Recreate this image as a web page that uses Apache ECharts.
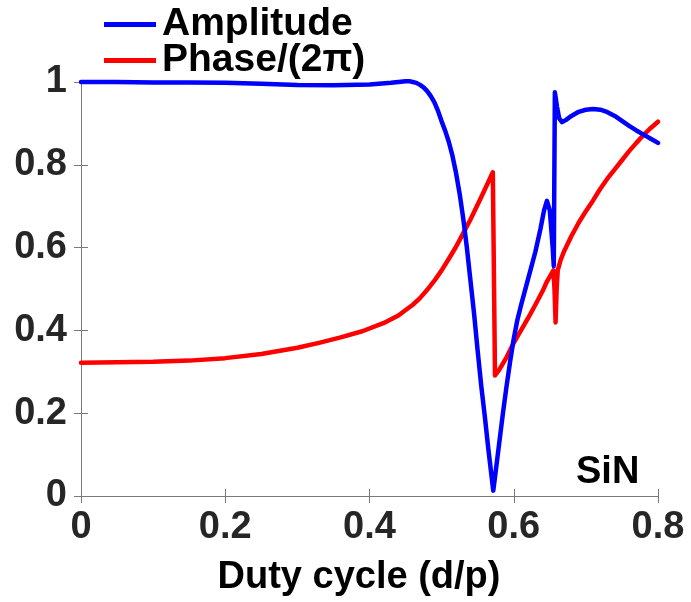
<!DOCTYPE html>
<html>
<head>
<meta charset="utf-8">
<script src="https://cdn.jsdelivr.net/npm/echarts@6/dist/echarts.min.js"></script>
<style>html,body{margin:0;padding:0;background:#fff}#c{width:691px;height:602px}</style>
</head>
<body>
<div id="c"></div>
<script>
// Amplitude (blue)
var ampX = [0, 0.05, 0.1, 0.15, 0.2, 0.25, 0.3, 0.35, 0.4, 0.43, 0.45, 0.455, 0.46, 0.465, 0.47, 0.475, 0.48, 0.485, 0.49, 0.495, 0.50, 0.505, 0.51, 0.515, 0.52, 0.525, 0.53, 0.535, 0.54, 0.545, 0.55, 0.555, 0.56, 0.565, 0.5716, 0.575, 0.58, 0.585, 0.59, 0.595, 0.60, 0.605, 0.61, 0.62, 0.63, 0.637, 0.642, 0.646, 0.650, 0.654, 0.6555, 0.657, 0.660, 0.663, 0.667, 0.672, 0.68, 0.69, 0.70, 0.71, 0.72, 0.73, 0.74, 0.75, 0.76, 0.77, 0.78, 0.79, 0.80];
var ampY = [1.000, 1.000, 0.999, 0.999, 0.998, 0.996, 0.993, 0.992, 0.994, 0.998, 1.002, 1.002, 1.000, 0.998, 0.993, 0.987, 0.978, 0.966, 0.951, 0.93, 0.905, 0.882, 0.855, 0.822, 0.78, 0.73, 0.67, 0.60, 0.52, 0.44, 0.35, 0.265, 0.19, 0.11, 0.013, 0.06, 0.13, 0.20, 0.265, 0.325, 0.38, 0.425, 0.46, 0.525, 0.59, 0.645, 0.69, 0.713, 0.69, 0.60, 0.555, 0.975, 0.94, 0.912, 0.903, 0.908, 0.918, 0.928, 0.933, 0.935, 0.933, 0.927, 0.918, 0.906, 0.894, 0.883, 0.873, 0.863, 0.853];
// Phase/(2π) (red)
var phX = [0, 0.05, 0.1, 0.15, 0.2, 0.25, 0.3, 0.33, 0.36, 0.39, 0.42, 0.44, 0.46, 0.47, 0.48, 0.49, 0.50, 0.51, 0.52, 0.53, 0.54, 0.555, 0.571, 0.574, 0.58, 0.59, 0.60, 0.61, 0.62, 0.63, 0.64, 0.646, 0.655, 0.6565, 0.658, 0.6595, 0.661, 0.665, 0.67, 0.68, 0.69, 0.70, 0.71, 0.72, 0.73, 0.74, 0.75, 0.76, 0.77, 0.78, 0.79, 0.80];
var phY = [0.322, 0.323, 0.324, 0.327, 0.333, 0.343, 0.358, 0.37, 0.383, 0.398, 0.418, 0.436, 0.462, 0.478, 0.498, 0.52, 0.545, 0.573, 0.602, 0.635, 0.668, 0.722, 0.782, 0.291, 0.305, 0.335, 0.37, 0.40, 0.43, 0.462, 0.495, 0.518, 0.545, 0.50, 0.419, 0.50, 0.545, 0.57, 0.592, 0.628, 0.66, 0.688, 0.714, 0.742, 0.767, 0.789, 0.811, 0.833, 0.853, 0.872, 0.889, 0.904];
var seriesNames = ['Amplitude', 'Phase/(2π)'];
var xTicks = {min: 0, max: 0.8, interval: 0.2};
var yTicks = {min: 0, max: 1, interval: 0.2};
var xTitle = 'Duty cycle (d/p)';
var annotation = 'SiN';

function pairs(xs, ys) { return xs.map(function (x, i) { return [x, ys[i]]; }); }

var FONT = "'Liberation Sans', Arial, sans-serif";
var axisGray = '#7a7a7a';
var tickStyle = {show: true, inside: true, length: 7, lineStyle: {color: axisGray, width: 1}};
var labelStyle = {fontFamily: FONT, fontWeight: 'bold', fontSize: 38, color: '#262626'};

var chart = echarts.init(document.getElementById('c'), null, {renderer: 'canvas'});
chart.setOption({
  animation: false,
  backgroundColor: '#fff',
  grid: {left: 81, top: 82, right: 33, bottom: 102, containLabel: false},
  legend: {
    orient: 'vertical', left: 99, top: 0, itemWidth: 52, itemHeight: 5, itemGap: -3,
    icon: 'rect',
    textStyle: {fontFamily: FONT, fontWeight: 'bold', fontSize: 39, color: '#000', lineHeight: 30, padding: [0, 0, 0, 1]},
    data: seriesNames
  },
  xAxis: [{
    type: 'value', position: 'bottom', min: xTicks.min, max: xTicks.max, interval: xTicks.interval,
    axisLine: {show: true, lineStyle: {color: axisGray, width: 1}},
    axisTick: tickStyle, splitLine: {show: false},
    axisLabel: Object.assign({margin: 13}, labelStyle),
    name: xTitle, nameLocation: 'middle', nameGap: 63,
    nameTextStyle: {fontFamily: FONT, fontWeight: 'bold', fontSize: 38, color: '#000', padding: [0, 21, 0, 0]}
  }, {
    type: 'value', position: 'top', min: xTicks.min, max: xTicks.max, interval: xTicks.interval,
    axisLine: {show: true, lineStyle: {color: axisGray, width: 1}},
    axisTick: tickStyle, splitLine: {show: false}, axisLabel: {show: false}
  }],
  yAxis: [{
    type: 'value', position: 'left', min: yTicks.min, max: yTicks.max, interval: yTicks.interval,
    axisLine: {show: true, lineStyle: {color: axisGray, width: 1}},
    axisTick: tickStyle, splitLine: {show: false},
    axisLabel: Object.assign({margin: 14, padding: [0, 0, 7, 0]}, labelStyle)
  }, {
    type: 'value', position: 'right', min: yTicks.min, max: yTicks.max, interval: yTicks.interval,
    axisLine: {show: true, lineStyle: {color: axisGray, width: 1}},
    axisTick: tickStyle, splitLine: {show: false}, axisLabel: {show: false}
  }],
  series: [{
    name: seriesNames[0], type: 'line', xAxisIndex: 0, yAxisIndex: 0,
    data: pairs(ampX, ampY), showSymbol: false, symbol: 'none', clip: false,
    lineStyle: {color: '#0000ff', width: 4.5, join: 'round', cap: 'round'}, itemStyle: {color: '#0000ff'}, z: 3
  }, {
    name: seriesNames[1], type: 'line', xAxisIndex: 0, yAxisIndex: 0,
    data: pairs(phX, phY), showSymbol: false, symbol: 'none', clip: false,
    lineStyle: {color: '#ff0000', width: 4.5, join: 'round', cap: 'round'}, itemStyle: {color: '#ff0000'}, z: 2
  }],
  graphic: [{
    type: 'text', x: 576, y: 473,
    style: {text: annotation, fontFamily: FONT, fontWeight: 'bold', fontSize: 38, fill: '#000', align: 'left', verticalAlign: 'middle'}
  }]
});
</script>
</body>
</html>
